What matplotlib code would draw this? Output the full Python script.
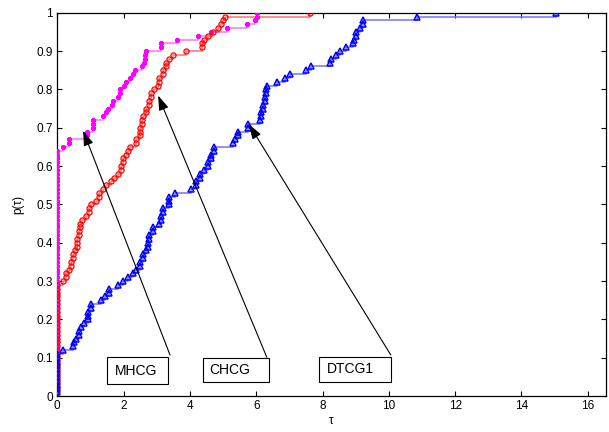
import numpy as np
import matplotlib
matplotlib.use("Agg")
import matplotlib.pyplot as plt
from matplotlib.patches import Rectangle
from matplotlib.ticker import FuncFormatter

plt.rcParams['font.family'] = ['Liberation Sans', 'DejaVu Sans']

n_problems = 100

# performance profile breakpoints: tau and cumulative number of problems solved
mhcg_tau = [0, 0.16, 0.34, 0.36, 0.89, 1.07, 1.09, 1.37, 1.47, 1.52, 1.65, 1.69, 1.82, 1.89,
            2.02, 2.08, 2.18, 2.28, 2.33, 2.56, 2.63, 2.66, 2.68, 3.13, 3.62, 4.24, 4.64,
            5.12, 5.73, 5.95, 6.02]
mhcg_count = [64, 65, 66, 67, 69, 70, 72, 73, 74, 75, 76, 77, 78, 80,
              81, 82, 83, 84, 85, 86, 87, 89, 90, 92, 93, 94, 95,
              96, 97, 98, 100]

chcg_tau = [0, 0.16, 0.26, 0.36, 0.41, 0.46, 0.54, 0.58, 0.64, 0.69,
            0.75, 0.87, 0.97, 1.02, 1.17, 1.27, 1.37, 1.47, 1.62, 1.72,
            1.82, 1.92, 1.97, 2.08, 2.12, 2.18, 2.38, 2.48, 2.56, 2.60,
            2.68, 2.76, 2.83, 2.93, 3.03, 3.08, 3.18, 3.28, 3.38, 3.48,
            3.87, 4.37, 4.44, 4.54, 4.69, 4.84, 4.94, 4.99, 5.05, 7.63]
chcg_count = [29, 30, 32, 33, 35, 37, 38, 41, 43, 45,
              46, 47, 49, 50, 51, 53, 54, 55, 56, 57,
              58, 60, 62, 63, 64, 65, 67, 70, 72, 73,
              75, 77, 79, 80, 81, 83, 85, 87, 88, 89,
              90, 92, 93, 94, 95, 96, 97, 98, 99, 100]

dtcg1_tau = [0, 0.16, 0.46, 0.51, 0.56, 0.66, 0.72, 0.82, 0.92, 1.02,
             1.32, 1.45, 1.57, 1.82, 1.97, 2.12, 2.28, 2.38, 2.48, 2.58,
             2.68, 2.73, 2.78, 2.88, 3.08, 3.13, 3.18, 3.38, 3.56, 4.04,
             4.19, 4.29, 4.44, 4.54, 4.64, 4.74, 5.30, 5.35, 5.45, 5.75,
             6.10, 6.15, 6.20, 6.25, 6.31, 6.33, 6.63, 6.86, 7.01, 7.49,
             7.66, 8.22, 8.27, 8.42, 8.52, 8.72, 8.92, 8.94, 9.02, 9.12,
             9.22, 10.86, 15.05]
dtcg1_count = [11, 12, 13, 14, 15, 17, 18, 19, 22, 24,
               25, 26, 28, 29, 30, 31, 32, 33, 35, 37,
               38, 40, 42, 44, 45, 47, 49, 52, 53, 54,
               56, 58, 59, 61, 63, 65, 66, 67, 69, 71,
               72, 74, 76, 78, 80, 81, 82, 83, 84, 85,
               86, 87, 88, 89, 90, 91, 92, 93, 95, 96,
               98, 99, 100]

x_ticks = [0, 2, 4, 6, 8, 10, 12, 14, 16]
y_ticks = [0, 0.1, 0.2, 0.3, 0.4, 0.5, 0.6, 0.7, 0.8, 0.9, 1.0]


def profile(tau, count):
    counts = np.diff([0] + list(count))
    t = np.repeat(tau, counts)
    p = np.arange(1, len(t) + 1) / n_problems
    return t, p


fig = plt.figure(figsize=(6.09, 4.32), dpi=100)
ax = fig.add_axes([0.0941, 0.0833, 0.9009, 0.8873])

series = [
    (mhcg_tau, mhcg_count, '#ff00ff', '#ff70ff', dict(marker=(6, 2, 0), ms=3.4, mew=1.5)),
    (chcg_tau, chcg_count, '#ff0000', '#ff7070', dict(marker='o', ms=3.7, mew=0.9, mfc='none')),
    (dtcg1_tau, dtcg1_count, '#0000ff', '#7070ff', dict(marker='^', ms=3.8, mew=1.1, mfc='none')),
]
for tau, count, mc, lc, mk in series:
    t, p = profile(tau, count)
    ax.plot(t, p, drawstyle='steps-post', color=lc, lw=1.1, zorder=2)
    ax.plot(t, p, linestyle='none', color=mc, mec=mc, zorder=3, **mk)

ax.set_xlim(0, 16.55)
ax.set_ylim(0, 1)
ax.set_xticks(x_ticks)
ax.set_yticks(y_ticks)
fmt = FuncFormatter(lambda v, pos: '%g' % v)
ax.xaxis.set_major_formatter(fmt)
ax.yaxis.set_major_formatter(fmt)
ax.tick_params(direction='in', top=True, right=True, length=3.6, width=0.8,
               labelsize=8.5, pad=3)
for s in ax.spines.values():
    s.set_linewidth(0.9)

ax.set_xlabel('τ', fontsize=8.5, labelpad=2)
ax.set_ylabel('p(τ)', fontsize=8.5, labelpad=9)

# annotation boxes with arrows
boxes = [
    ('MHCG', (1.50, 0.031), 1.84, 0.071, 1.74, (3.40, 0.107), (0.78, 0.692)),
    ('CHCG', (4.40, 0.037), 1.98, 0.062, 4.57, (6.32, 0.101), (3.04, 0.784)),
    ('DTCG1', (7.89, 0.037), 2.17, 0.065, 8.13, (10.06, 0.107), (5.78, 0.709)),
]
for label, (bx, by), bw, bh, tx, start, tip in boxes:
    ax.add_patch(Rectangle((bx, by), bw, bh, facecolor='white', edgecolor='black',
                           lw=0.8, zorder=5))
    ax.text(tx, by + bh / 2, label, fontsize=10, ha='left', va='center', zorder=6)
    ax.annotate('', xy=tip, xytext=start,
                arrowprops=dict(arrowstyle='-|>,head_length=0.45,head_width=0.15',
                                color='black', lw=0.8, mutation_scale=20,
                                shrinkA=0, shrinkB=0),
                zorder=6)

fig.savefig('out.png', dpi=100)
